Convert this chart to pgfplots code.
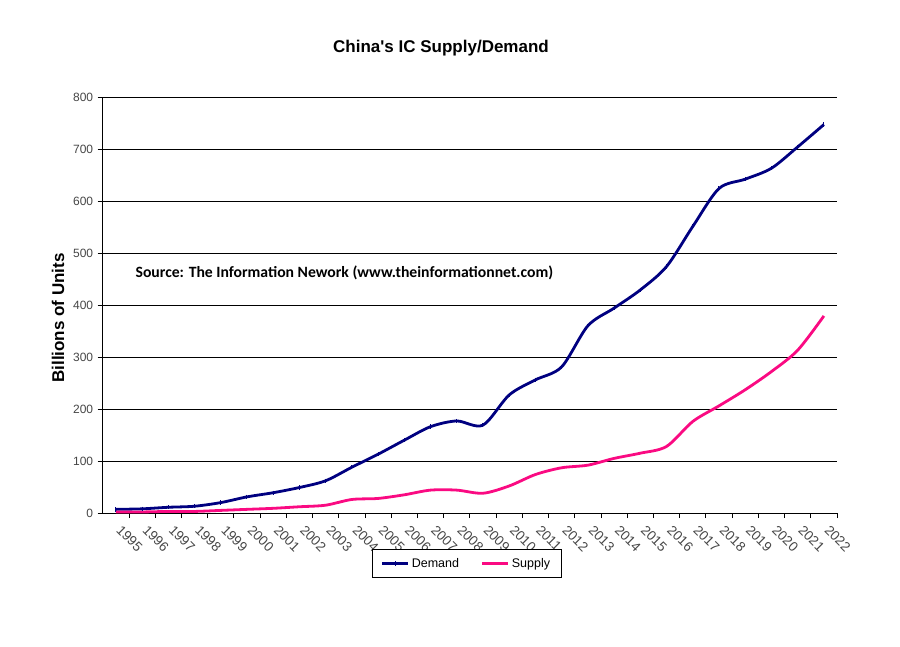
\documentclass[border=0pt]{standalone}
\usepackage{pgfplots}
\pgfplotsset{compat=1.18}
\usepackage{fontspec}
\setmainfont{Liberation Sans}
\newfontfamily\carlito{Carlito}
\definecolor{demand}{RGB}{0,0,128}
\definecolor{supply}{RGB}{250,10,130}
\definecolor{ticklab}{RGB}{70,70,70}
\begin{document}
\begin{tikzpicture}[x=1pt,y=1pt]
\path[use as bounding box] (0,0) rectangle (900,646);
\node[font=\fontsize{17}{20}\selectfont\bfseries] at (441,598) {China\textquotesingle s IC Supply/Demand};
\node[font=\fontsize{17}{20}\selectfont\bfseries,rotate=90] at (58,328) {Billions of Units};
\begin{axis}[
  at={(102.7pt,133pt)}, anchor=south west,
  scale only axis, width=734.3pt, height=416pt,
  xmin=-0.5, xmax=27.5, ymin=0, ymax=800,
  axis x line*=bottom, axis y line*=left,
  axis line style={black, line width=1pt},
  ytick={0,100,...,800},
  xtick={0,...,27},
  xticklabels={1995,1996,1997,1998,1999,2000,2001,2002,2003,2004,2005,2006,2007,2008,2009,2010,2011,2012,2013,2014,2015,2016,2017,2018,2019,2020,2021,2022},
  minor xtick={0.5,1.5,...,27.5},
  major x tick style={draw=none},
  minor tick length=5pt,
  major tick length=5pt,
  tick style={black, line width=0.8pt},
  tick align=outside,
  ymajorgrids, grid style={black, line width=0.9pt},
  /pgf/number format/assume math mode=true,
  yticklabel style={font=\fontsize{12}{14}\selectfont, text=ticklab, xshift=-1pt},
  xticklabel style={font=\fontsize{13.5}{15}\selectfont, text=ticklab, rotate=-45, anchor=north west, xshift=5.8pt, yshift=3.5pt},
  legend style={at={(0.4955,-0.1214)}, anchor=center, legend columns=2,
    draw=black, fill=white, line width=0.8pt, font=\fontsize{12.5}{14}\selectfont,
    inner xsep=9pt, inner ysep=7pt,
    /tikz/every even column/.append style={column sep=20pt}},
  legend image code/.code={\draw[mark repeat=2,mark phase=2,#1] plot coordinates {(0pt,0pt) (13pt,0pt) (26pt,0pt)};},
]
\addplot[demand, line width=2.8pt, smooth, tension=0.5, mark=|, mark size=2.2pt, mark options={line width=1pt}] coordinates {
(0,7) (1,8) (2,11) (3,13) (4,20) (5,31) (6,39) (7,49) (8,62) (9,88) (10,113) (11,140) (12,166) (13,177) (14,169) (15,227) (16,256) (17,281) (18,360) (19,394) (20,429) (21,474) (22,551) (23,624) (24,642) (25,663) (26,704) (27,747)
};
\addlegendentry{Demand}
\addplot[supply, line width=2.8pt, smooth, tension=0.5] coordinates {
(0,2) (1,2) (2,3) (3,3) (4,5) (5,7) (6,9) (7,12) (8,15) (9,26) (10,28) (11,35) (12,44) (13,44) (14,38) (15,52) (16,74) (17,87) (18,92) (19,105) (20,115) (21,128) (22,176) (23,206) (24,237) (25,272) (26,313) (27,379)
};
\addlegendentry{Supply}
\node[anchor=west, font=\carlito\fontsize{15.7}{17}\selectfont\bfseries] at (axis cs:0.62,461) {Source: The Information Nework (www.theinformationnet.com)};
\end{axis}
\end{tikzpicture}
\end{document}
